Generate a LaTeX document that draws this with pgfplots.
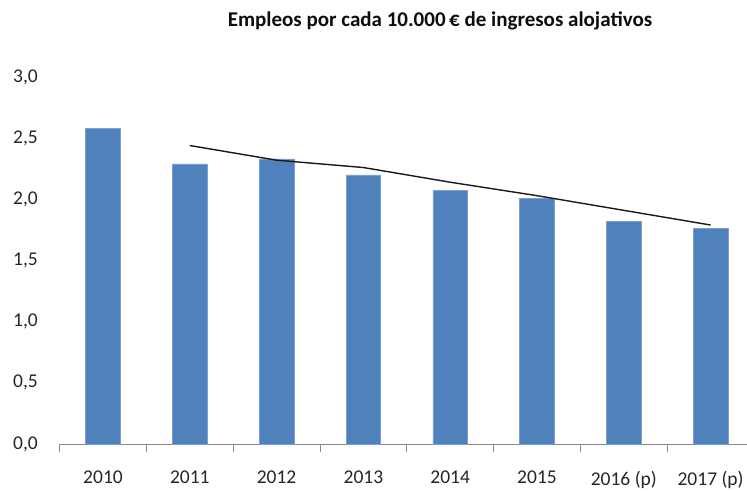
\documentclass[border=0pt]{standalone}
\usepackage{fontspec}
\setmainfont{Carlito}
\usepackage{pgfplots}
\pgfplotsset{compat=1.18}
\definecolor{barblue}{RGB}{79,129,189}
\definecolor{axisgray}{RGB}{134,134,134}
\begin{document}
\fontsize{19.5}{23}\selectfont
\begin{tikzpicture}
\path[use as bounding box] (0,0) rectangle (747pt,491pt);
\node[font=\bfseries\fontsize{21}{25}\selectfont, text=black!95] at (440pt,470pt) {Empleos por cada 10.000\,€ de ingresos alojativos};
\begin{axis}[
  at={(59.6pt,47pt)}, anchor=south west,
  scale only axis, width=694.4pt, height=367pt,
  xmin=-0.5, xmax=7.5, ymin=0, ymax=3,
  axis lines*=left,
  y axis line style={draw=none},
  x axis line style={axisgray, line width=0.9pt},
  major tick length=0pt,
  minor tick length=8pt,
  tick align=outside,
  ytick={0,0.5,1,1.5,2,2.5,3},
  xtick={0,1,2,3,4,5,6,7},
  xticklabels={2010,2011,2012,2013,2014,2015,2016 (p),2017 (p)},
  minor xtick={-0.5,0.5,1.5,2.5,3.5,4.5,5.5,6.5,7.5},
  minor x tick style={axisgray, line width=0.9pt},
  /pgf/number format/.cd, use comma, fixed, fixed zerofill, precision=1, assume math mode=true,
  /pgfplots/.cd,
  yticklabel style={anchor=east, inner sep=0pt, xshift=-21.6pt, text=black!85},
  xticklabel style={anchor=north, inner sep=0pt, yshift=-27pt, text=black!85},
  tick label style={font=\fontsize{19.5}{23}\selectfont},
]
\addplot[ybar, bar width=34.5pt, fill=barblue, draw=barblue!75!white, line width=0.6pt]
  coordinates {(0,2.58) (1,2.29) (2,2.33) (3,2.20) (4,2.07) (5,2.01) (6,1.82) (7,1.76)};
\addplot[black!90, line width=1.4pt, sharp plot]
  coordinates {(1,2.44) (2,2.32) (3,2.26) (4,2.14) (5,2.03) (6,1.91) (7,1.79)};
\end{axis}
\end{tikzpicture}
\end{document}
